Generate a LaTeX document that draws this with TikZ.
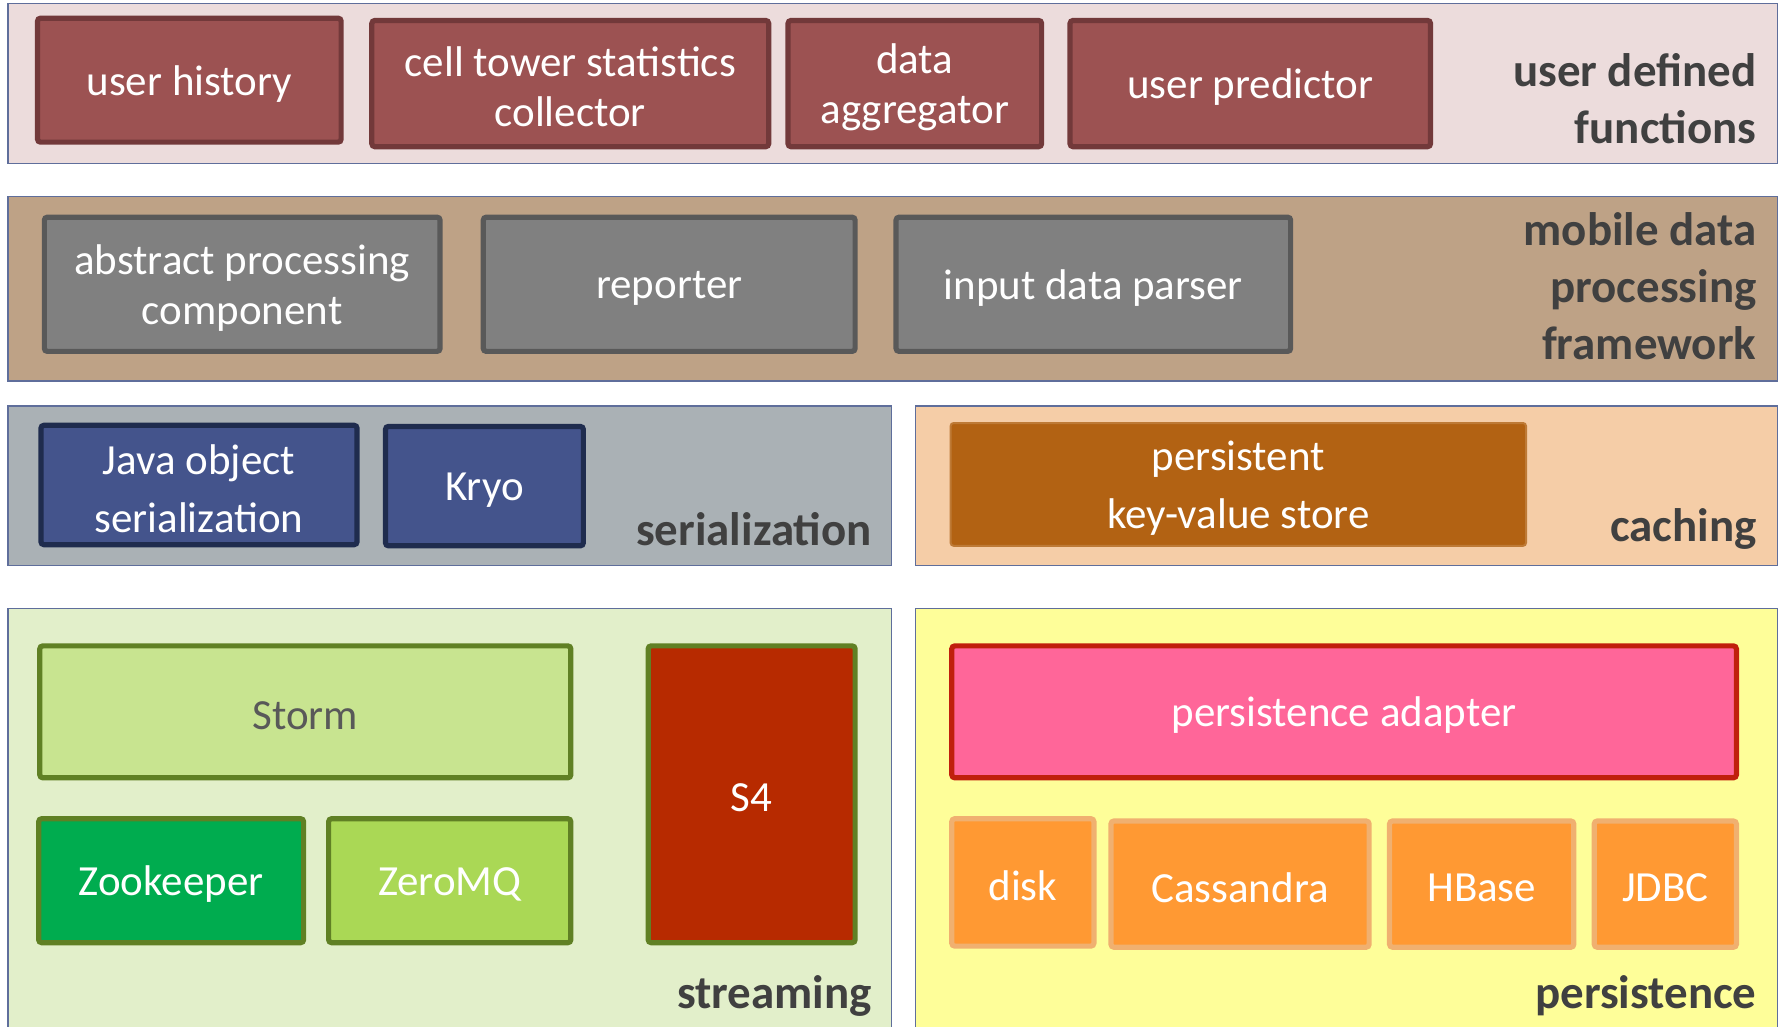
\documentclass[tikz,border=0pt]{standalone}
\usepackage{fontspec}
\setmainfont{Carlito}

\definecolor{bandline}{RGB}{95,110,155}
\definecolor{udfbg}{RGB}{236,220,220}
\definecolor{mdpbg}{RGB}{190,162,134}
\definecolor{serbg}{RGB}{170,177,181}
\definecolor{cachebg}{RGB}{245,205,167}
\definecolor{streambg}{RGB}{226,239,202}
\definecolor{persbg}{RGB}{254,254,153}
\definecolor{udffill}{RGB}{156,82,82}
\definecolor{udfline}{RGB}{114,57,58}
\definecolor{mdpfill}{RGB}{128,128,128}
\definecolor{mdpline}{RGB}{89,89,89}
\definecolor{serfill}{RGB}{68,84,140}
\definecolor{serline}{RGB}{31,44,78}
\definecolor{kvfill}{RGB}{178,98,19}
\definecolor{olive}{RGB}{96,128,36}
\definecolor{stormfill}{RGB}{200,228,144}
\definecolor{s4fill}{RGB}{183,42,0}
\definecolor{zkfill}{RGB}{0,172,79}
\definecolor{zmqfill}{RGB}{170,216,85}
\definecolor{adfill}{RGB}{255,102,153}
\definecolor{adline}{RGB}{192,32,12}
\definecolor{stfill}{RGB}{255,153,51}
\definecolor{stline}{RGB}{240,176,112}
\definecolor{lblgray}{RGB}{64,64,64}

\tikzset{
  band/.style={draw=bandline, line width=0.6pt},
  blk/.style={line width=2.6pt, rounded corners=1.5pt},
  txt/.style={text=white, align=center, inner sep=0pt, yshift=-1.8pt,
    font=\fontsize{21.5}{25}\selectfont},
  widetxt/.style={txt, font=\fontsize{21.5}{29}\selectfont},
  lbl/.style={text=lblgray, align=right, anchor=east, inner sep=0pt,
    font=\fontsize{23.5}{28.5}\selectfont\bfseries},
}

\begin{document}
\begin{tikzpicture}[x=0.02cm, y=-0.02cm]
\useasboundingbox (0,0) rectangle (1568,903);

% layers
\filldraw[band, fill=udfbg] (7,3) rectangle (1563,144);
\filldraw[band, fill=mdpbg] (7,173) rectangle (1563,335);
\filldraw[band, fill=serbg] (7,357) rectangle (784,497);
\filldraw[band, fill=cachebg] (805,357) rectangle (1563,497);
\filldraw[band, fill=streambg] (7,535) rectangle (784,910);
\filldraw[band, fill=persbg] (805,535) rectangle (1563,910);

\node[lbl] (udf) at (1545,87) {user defined\\functions};
\node[lbl] (mdp) at (1545,252) {mobile data\\processing\\framework};
\node[lbl] (ser) at (767,465) {serialization};
\node[lbl] (cache) at (1545,465) {caching};
\node[lbl] (stream) at (767,876) {streaming};
\node[lbl] (pers) at (1545,876) {persistence};

% user defined functions
\filldraw[blk, draw=udfline, fill=udffill] (33,16) rectangle (300,125)
  node[txt, midway] (hist) {user history};
\filldraw[blk, draw=udfline, fill=udffill] (327,18) rectangle (676,129)
  node[txt, midway] (cell) {cell tower statistics\\collector};
\filldraw[blk, draw=udfline, fill=udffill] (693,18) rectangle (916,129)
  node[txt, midway] (aggr) {data\\aggregator};
\filldraw[blk, draw=udfline, fill=udffill] (941,18) rectangle (1258,129)
  node[txt, midway] (pred) {user predictor};

% framework
\filldraw[blk, draw=mdpline, fill=mdpfill] (39,191) rectangle (387,309)
  node[txt, midway] (apc) {abstract processing\\component};
\filldraw[blk, draw=mdpline, fill=mdpfill] (425,191) rectangle (752,309)
  node[txt, midway] (rep) {reporter};
\filldraw[blk, draw=mdpline, fill=mdpfill] (788,191) rectangle (1135,309)
  node[txt, midway] (parser) {input data parser};

% serialization
\filldraw[blk, draw=serline, fill=serfill] (36,374) rectangle (314,479)
  node[widetxt, midway] (java) {Java object\\serialization};
\filldraw[blk, draw=serline, fill=serfill] (339,375) rectangle (513,480)
  node[txt, midway] (kryo) {Kryo};

% caching
\filldraw[blk, line width=1pt, draw=kvfill!85!white, fill=kvfill] (836,372) rectangle (1342,480)
  node[widetxt, midway] (kv) {persistent\\key-value store};

% streaming
\filldraw[blk, draw=olive, fill=stormfill] (35,568) rectangle (502,684)
  node[txt, midway, text=mdpline] (storm) {Storm};
\filldraw[blk, draw=olive, fill=s4fill] (570,568) rectangle (752,829)
  node[txt, midway] (s4) {S4};
\filldraw[blk, draw=olive, fill=zkfill] (34,720) rectangle (267,829)
  node[txt, midway] (zk) {Zookeeper};
\filldraw[blk, draw=olive, fill=zmqfill] (289,720) rectangle (502,829)
  node[txt, midway] (zmq) {ZeroMQ};

% persistence
\filldraw[blk, draw=adline, fill=adfill] (837,568) rectangle (1527,684)
  node[txt, midway] (adapter) {persistence adapter};
\filldraw[blk, draw=stline, fill=stfill] (837,720) rectangle (962,832)
  node[txt, midway] (disk) {disk};
\filldraw[blk, draw=stline, fill=stfill] (977,722) rectangle (1204,833)
  node[txt, midway] (cass) {Cassandra};
\filldraw[blk, draw=stline, fill=stfill] (1222,722) rectangle (1384,833)
  node[txt, midway] (hbase) {HBase};
\filldraw[blk, draw=stline, fill=stfill] (1402,722) rectangle (1527,833)
  node[txt, midway] (jdbc) {JDBC};
\end{tikzpicture}
\end{document}
